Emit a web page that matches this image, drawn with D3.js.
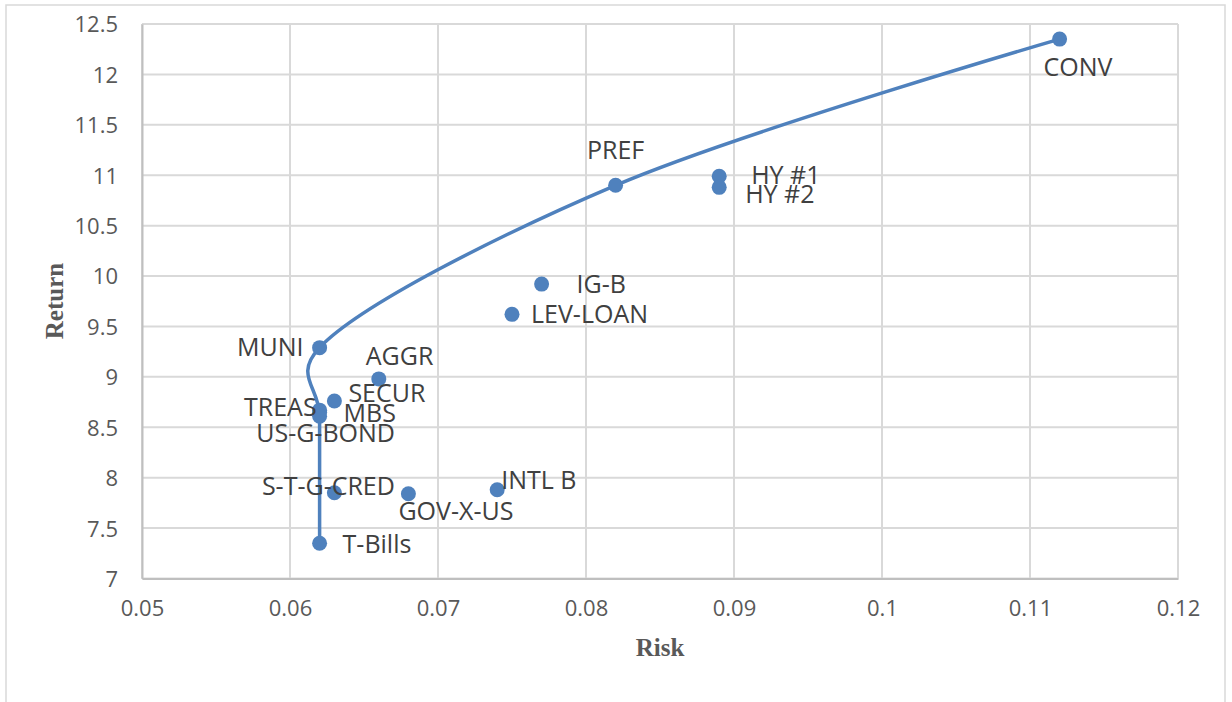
<!DOCTYPE html>
<html>
<head>
<meta charset="utf-8">
<script src="https://cdn.jsdelivr.net/npm/d3@7"></script>
<style>
  html, body { margin: 0; padding: 0; background: #fff; }
  svg { display: block; }
</style>
</head>
<body>
<svg id="chart" width="1232" height="702"></svg>
<script>
// Asset classes: risk (x) and return (y)
const names   = ["CONV", "HY #1", "HY #2", "PREF", "IG-B", "LEV-LOAN", "MUNI", "AGGR",
                 "SECUR", "MBS", "TREAS", "US-G-BOND", "S-T-G-CRED", "GOV-X-US", "INTL B", "T-Bills"];
const risk    = [0.112, 0.089, 0.089, 0.082, 0.077, 0.075, 0.062, 0.066,
                 0.063, 0.062, 0.062, 0.062, 0.063, 0.068, 0.074, 0.062];
const returns = [12.35, 10.99, 10.88, 10.90, 9.92, 9.62, 9.29, 8.98,
                 8.76, 8.65, 8.67, 8.61, 7.85, 7.84, 7.88, 7.35];

// Efficient frontier passes through these classes, bottom to top
const frontier = ["T-Bills", "US-G-BOND", "MUNI", "PREF", "CONV"];

const xTicks = [0.05, 0.06, 0.07, 0.08, 0.09, 0.1, 0.11, 0.12];
const yTicks = [7, 7.5, 8, 8.5, 9, 9.5, 10, 10.5, 11, 11.5, 12, 12.5];

const points = names.map((n, i) => ({ name: n, x: risk[i], y: returns[i] }));
const byName = new Map(points.map(p => [p.name, p]));

// Label placement around each marker (pixel offsets, text anchor)
const labelPos = {
  "CONV":       { dx: -16, dy: 28,  anchor: "start" },
  "PREF":       { dx: 0,   dy: -35, anchor: "middle" },
  "HY #1":      { dx: 32,  dy: -1,  anchor: "start" },
  "HY #2":      { dx: 26,  dy: 7,   anchor: "start" },
  "IG-B":       { dx: 35,  dy: 0,   anchor: "start" },
  "LEV-LOAN":   { dx: 19,  dy: 0,   anchor: "start" },
  "MUNI":       { dx: -16, dy: -1,  anchor: "end" },
  "AGGR":       { dx: -13, dy: -23, anchor: "start" },
  "SECUR":      { dx: 14,  dy: -8,  anchor: "start" },
  "MBS":        { dx: 24,  dy: 1,   anchor: "start" },
  "TREAS":      { dx: -3,  dy: -3,  anchor: "end" },
  "US-G-BOND":  { dx: 6,   dy: 17,  anchor: "middle" },
  "S-T-G-CRED": { dx: -6,  dy: -7,  anchor: "middle" },
  "GOV-X-US":   { dx: -10, dy: 17,  anchor: "start" },
  "INTL B":     { dx: 4,   dy: -10, anchor: "start" },
  "T-Bills":    { dx: 23,  dy: 1,   anchor: "start" }
};

const svg = d3.select("#chart");
const plot = { left: 142, top: 24, right: 1178, bottom: 578.5 };

const blue = "#4f81bd";
const gridColor = "#d9d9d9";

// chart frame
svg.append("rect")
  .attr("x", 6).attr("y", 5)
  .attr("width", 1219).attr("height", 720)
  .attr("fill", "#fff")
  .attr("stroke", gridColor).attr("stroke-width", 1.5);

const x = d3.scaleLinear().domain([0.05, 0.12]).range([plot.left, plot.right]);
const y = d3.scaleLinear().domain([7, 12.5]).range([plot.bottom, plot.top]);

// gridlines
const grid = svg.append("g");
grid.selectAll("line.v").data(xTicks).join("line")
  .attr("class", "v")
  .attr("x1", d => x(d)).attr("x2", d => x(d))
  .attr("y1", plot.top).attr("y2", plot.bottom)
  .attr("stroke", gridColor).attr("stroke-width", 2);
grid.selectAll("line.h").data(yTicks).join("line")
  .attr("class", "h")
  .attr("x1", plot.left).attr("x2", plot.right)
  .attr("y1", d => y(d)).attr("y2", d => y(d))
  .attr("stroke", gridColor).attr("stroke-width", 2);

// axes
const fmt = d => String(+d.toFixed(2));
const xAxis = svg.append("g")
  .attr("transform", `translate(0,${plot.bottom})`)
  .call(d3.axisBottom(x).tickValues(xTicks).tickFormat(fmt).tickSize(0).tickPadding(22));
const yAxis = svg.append("g")
  .attr("transform", `translate(${plot.left},0)`)
  .call(d3.axisLeft(y).tickValues(yTicks).tickFormat(fmt).tickSize(0).tickPadding(24));

[xAxis, yAxis].forEach(a => {
  a.select(".domain").attr("stroke", "#bfbfbf").attr("stroke-width", 2);
  a.selectAll("text")
    .attr("fill", "#595959")
    .style("font-family", "'Open Sans', 'Liberation Sans', sans-serif")
    .style("font-size", "22px");
});
yAxis.selectAll("text").attr("dy", "0.36em");

// axis titles
svg.append("text")
  .attr("x", 660).attr("y", 656)
  .attr("text-anchor", "middle")
  .attr("fill", "#595959")
  .style("font-family", "'Liberation Serif', 'Times New Roman', serif")
  .style("font-weight", "bold")
  .style("font-size", "25px")
  .text("Risk");
svg.append("text")
  .attr("transform", "translate(63,301) rotate(-90)")
  .attr("text-anchor", "middle")
  .attr("fill", "#595959")
  .style("font-family", "'Liberation Serif', 'Times New Roman', serif")
  .style("font-weight", "bold")
  .style("font-size", "25px")
  .text("Return");

// efficient frontier
const line = d3.line()
  .x(d => x(d.x)).y(d => y(d.y))
  .curve(d3.curveCatmullRom.alpha(0.25));
svg.append("path")
  .datum(frontier.map(n => byName.get(n)))
  .attr("d", line)
  .attr("fill", "none")
  .attr("stroke", blue)
  .attr("stroke-width", 3.5)
  .attr("stroke-linecap", "round");

// markers
svg.append("g").selectAll("circle").data(points).join("circle")
  .attr("cx", d => x(d.x)).attr("cy", d => y(d.y))
  .attr("r", 7.5)
  .attr("fill", blue);

// data labels
svg.append("g").selectAll("text").data(points).join("text")
  .attr("x", d => x(d.x) + labelPos[d.name].dx)
  .attr("y", d => y(d.y) + labelPos[d.name].dy)
  .attr("dy", "0.36em")
  .attr("text-anchor", d => labelPos[d.name].anchor)
  .attr("fill", "#404040")
  .style("font-family", "'Open Sans', 'Liberation Sans', sans-serif")
  .style("font-size", "25px")
  .text(d => d.name);
</script>
</body>
</html>
